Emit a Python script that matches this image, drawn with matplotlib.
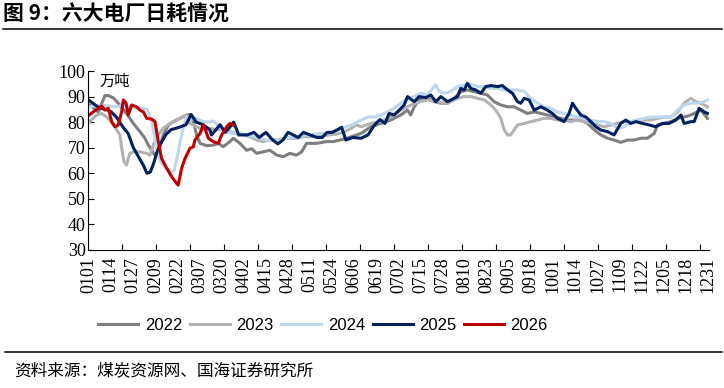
import matplotlib
matplotlib.use('Agg')  # 无显示环境
import matplotlib.pyplot as plt
from matplotlib.lines import Line2D

plt.rcParams['font.family'] = ['Liberation Serif', 'DejaVu Serif']

# ============ 数据（日序号 0=0101 ... 364=1231，单位：万吨） ============ #
tick_labels = ["0101", "0114", "0127", "0209", "0222", "0307", "0320", "0402", "0415",
               "0428", "0511", "0524", "0606", "0619", "0702", "0715", "0728", "0810",
               "0823", "0905", "0918", "1001", "1014", "1027", "1109", "1122", "1205",
               "1218", "1231"]
years = ["2022", "2023", "2024", "2025", "2026"]

d22 = [0.5, 5.4, 9.3, 11.3, 14.2, 18.1, 22, 26, 29.9, 32.8, 34.8, 36.8, 38.7, 40.7, 43.6, 46.6,
       49.5, 53.4, 57.3, 59.3, 61.3, 63.2, 65.2, 69.1, 73, 76, 78.9, 82.8, 84.8, 88.7, 92.6,
       95.6, 98.5, 102.4, 106.4, 110.3, 114.2, 118.1, 122, 125, 127.9, 133.8, 139.7, 143.6,
       147.5, 151.5, 157.3, 160, 165.7, 171.6, 177.4, 183.3, 187.3, 189.2, 191.2, 195.1, 199,
       203, 206.9, 210.8, 214.7, 218.6, 222.5, 226.5, 230.4, 234.3, 238.2, 242.2, 246.1, 250,
       253.9, 257.8, 261.8, 265.7, 269.6, 273.5, 277.5, 281.4, 285.3, 289.2, 293.1, 297.1,
       301, 304.9, 308.8, 312.7, 316.7, 320.6, 324.5, 328.4, 332.4, 334.3, 338.2, 342.2,
       346.1, 350, 353.9, 355.9, 359.8, 363.7]
v22 = [86.7, 84, 90.4, 90.4, 89.5, 86.7, 83.4, 79.5, 76.3, 73.7, 71, 69, 67, 68.4, 75, 78.9,
       80.2, 81.5, 82.8, 83, 80.2, 75, 71.7, 70.8, 71, 71.7, 70.4, 72.4, 73.7, 71.7, 69,
       69.6, 67.8, 68.4, 69, 67.1, 66.5, 67.8, 67.1, 68.4, 71.7, 71.7, 72.4, 72.4,
       73, 73.7, 75, 75.6, 78.2, 79.5, 80.8, 82.8, 84.7, 82.8, 86, 89.3, 89.3,
       88, 87.4, 87.4, 89.3, 91.9, 92.6, 91.9, 91.3, 90.6, 88, 86.7, 86, 86,
       84.7, 83.4, 84, 83.4, 82.8, 82, 81.5, 80.8, 80.8, 80.8, 79.5, 77,
       75, 73.7, 73, 72.1, 73, 73, 73.7, 73.7, 75.6, 78.9, 79.5, 80.2,
       81.5, 82, 82.8, 83.4, 84.7, 81.5]

d23 = [0, 4.4, 7.3, 10.3, 13.2, 16.2, 18.1, 19.1, 20.5, 22, 23, 24, 26, 29.9, 33.8, 35.8, 37.7,
       39.7, 43.6, 47.5, 51.5, 55.4, 57.3, 59.3, 63.2, 67.1, 71, 75, 78.9, 82.8, 86.8, 90.7,
       94.6, 98.5, 102.4, 106.4, 110.3, 114.2, 118.1, 122, 126, 129.9, 133.8, 137.7, 141.7,
       145.6, 149.5, 153.4, 157.3, 160, 165.7, 171.6, 177.4, 183.3, 189.2, 195.1, 199, 204.9,
       210.8, 216.7, 220.6, 224.5, 228.4, 232.4, 236.3, 239.2, 242.2, 244.1, 246.1, 248, 250,
       252, 255.9, 259.8, 263.7, 267.6, 271.6, 275.5, 279.4, 283.3, 287.3, 291.2, 295.1, 299,
       303, 306.9, 310.8, 314.7, 318.6, 322.5, 326.5, 330.4, 334.3, 338.2, 342.2, 346.1, 350,
       353.9, 356.9, 359.8, 363.7]
v23 = [80, 82.8, 83.4, 82, 80, 77, 75, 70, 64.5, 63.2, 65.8, 67.8, 68.4, 68.4, 67.8, 67.1, 71,
       74.3, 77.6, 79.5, 80.8, 82, 82.8, 79.5, 78.2, 77, 77.6, 77, 77.3, 76.3, 75.6, 75,
       74.3, 73, 72.4, 73, 73, 73.7, 73.7, 73.7, 74.3, 74.3, 74.3, 74.7, 75,
       75.3, 76, 77.3, 78.9, 78.2, 79.5, 80.2, 82, 84.7, 86.7, 88, 88.7, 88,
       87.4, 89.3, 90, 90, 89.3, 88.7, 86.7, 84.7, 81.5, 77, 75, 75, 77,
       78.9, 79.5, 80.2, 80.8, 81.5, 81.5, 80.8, 80.8, 80.2, 80.8, 80.2, 79.5, 78.9,
       78.2, 78.9, 79.5, 80.2, 80.2, 80.8, 80.8, 80.8, 81.5, 82, 82, 84, 87.4,
       89.3, 88, 87.4, 86]

d24 = [0, 5, 10, 15, 20, 25, 30, 34, 37, 39, 42, 45, 48, 50, 52, 53.4, 55.4, 57.3, 59, 63, 67,
       71, 73, 77, 81, 85, 89, 93, 96.6, 100.5, 104, 108, 112, 116, 120, 123, 127, 131, 135,
       139, 143, 147, 151, 155, 160, 164, 168, 171.6, 175.5, 179.4, 183.3, 187.3, 191.2,
       195.1, 199, 202, 203.9, 205.9, 208.8, 212.7, 216.7, 220.6, 224.5, 228.4, 232.4, 236.3,
       240.2, 244.1, 248, 252, 255.9, 259.8, 263.7, 267.6, 271.6, 275.5, 279.4, 283.3, 287.3,
       291.2, 295.1, 299, 303, 306.9, 310.8, 314.7, 318.6, 322.5, 326.5, 330.4, 334.3, 338.2,
       342.2, 346.1, 350, 353.9, 357.8, 361.8, 364]
v24 = [86, 86.5, 86.5, 86, 86.5, 86, 85.5, 85, 80, 72, 64.5, 62, 60.6, 61, 67, 72, 78, 82, 81,
       81.5, 80.2, 80, 80.5, 78, 76, 75.6, 75.5, 75, 74.3, 73.7, 73, 73, 73, 73.7, 74.3, 74.3,
       75, 75, 75.6, 75.6, 76.3, 77, 78.2, 79, 80.8, 82, 82, 82.8, 84, 85.4, 87.4, 89.3, 90,
       91.3, 90.6, 93.2, 94.5, 92, 91.3, 92, 93.9, 94.5, 94.8, 93.9, 93.9, 93.2,
       93.2, 92.6, 92.6, 92.6, 92, 89.3, 87.4, 86, 85.4, 84, 83.4, 82.8, 82,
       81.5, 80.8, 80.2, 80.2, 79.5, 77.6, 78.2, 80.2, 80.8, 81.5, 82, 82, 82,
       82, 84.7, 86.7, 87.4, 87.4, 88, 88.7]

d25 = [0, 3, 6, 10, 13, 16, 20, 23, 26, 29, 32, 34, 36, 38, 40, 42, 45, 48, 53, 57, 60, 63, 67,
       71, 72, 77, 80, 84, 85, 88, 93, 97, 100, 104, 108, 111, 114, 117, 120, 123, 126, 130,
       134, 137, 140, 143, 146, 148.5, 151, 155, 160, 164, 168, 171, 174, 176.5, 179.4, 182.4,
       185.3, 187.3, 189.2, 191.2, 194.1, 198, 201, 203.9, 206.9, 210.8, 213.7, 216.7, 218.6,
       220.6, 222.5, 224.5, 227.4, 230.4, 233.3, 236.3, 240.2, 243.1, 246.1, 249, 252, 253.9,
       255.9, 258.8, 261.8, 265.7, 269.6, 272.5, 275.5, 279.4, 282.3, 284.3, 286.3, 289.2,
       292.2, 295.1, 298, 301, 304.9, 308.8, 312.7, 315.7, 318.6, 321.6, 325.5, 329.4, 333.3,
       337.3, 341.2, 345.1, 348.1, 350, 354, 355.9, 358.8, 361.8, 363.7]
v25 = [88.5, 87, 85.5, 85, 84, 82, 78, 75.5, 70, 66.5, 63, 60, 60.5, 64, 68.5, 71.5, 75, 77,
       78, 79, 83, 80, 79, 77, 75, 79, 76, 79, 80, 75, 75, 76, 74, 76, 73, 71.5, 73, 76, 75,
       74, 76, 75, 74, 74, 76, 76, 77, 78, 73, 74, 73.7, 75, 79, 81, 79.5, 83.4, 82.8, 84.7,
       86.7, 90, 89, 88, 90, 89.6, 90.6, 88, 90, 88, 89, 90, 93.2,
       92.6, 95.2, 93.2, 92.6, 91.3, 93.9, 94.3, 93.9, 94.3, 92.6, 91.3, 88, 87.4,
       89.3, 88.7, 84.7, 86, 84.7, 83.4, 81.5, 80.2, 83.4, 87.4, 85.4, 82.8,
       82, 80.2, 78.2, 76.9, 76.3, 75, 79.5, 80.8, 79.5, 80.2, 79.5, 78.9, 78.2,
       79.5, 79.5, 80.8, 82.8, 79.5, 80.2, 80.2, 85.4, 84, 83.4]

d26 = [0, 2.4, 5.4, 7.3, 9.3, 11.3, 13.2, 15.2, 17.1, 19.1, 20.1, 21.7, 23, 25, 27.9, 29.9, 31.9,
       33.8, 36.8, 38.7, 40.7, 42.6, 45.6, 48.5, 51.5, 52.4, 54.4, 56.4, 59.3, 61.3, 62.2, 65.2,
       67.1, 68.1, 70.1, 73, 76, 77.9, 80.9, 82.8, 84.8]
v26 = [82.8, 84, 85.4, 86.4, 84.7, 85.4, 80.2, 78.2, 78.9, 84, 88.7, 87.4, 82.8, 86.7, 86,
       84.7, 84, 81.5, 81.2, 80.2, 72.4, 65.8, 62, 58.7, 56, 55.4, 62, 65.8, 69.8, 70.4, 73,
       75.6, 78.9, 77.6, 73.7, 72.4, 71.7, 75, 78.2, 79.5, 78.9]

colors = ["#7f7f7f", "#b2b2b2", "#bdd7ee", "#002060", "#c00000"]
series = [(d22, v22), (d23, v23), (d24, v24), (d25, v25), (d26, v26)]

# ============ 画图 ============ #
W, H = 724, 388
fig = plt.figure(figsize=(W / 100, H / 100), dpi=100)
ax = fig.add_axes([88.3 / W, (H - 250) / H, 620.5 / W, 179 / H])

for (dd, vv), c, yr in zip(series, colors, years):
    ax.plot(dd, vv, color=c, lw=2.2, label=yr, solid_joinstyle="round")

ax.set_xlim(-0.5, 364.5)
ax.set_ylim(30, 100)
ax.set_yticks(range(30, 101, 10))
ax.set_xticks([i * 13 for i in range(len(tick_labels))])
ax.set_xticklabels(tick_labels, rotation=90, fontsize=13)
ax.set_xticks([19.5 + 20 * k for k in range(18)], minor=True)
ax.tick_params(axis="x", which="major", length=0, pad=5)
ax.tick_params(axis="x", which="minor", direction="in", length=4.5, width=0.8)
ax.tick_params(axis="y", direction="in", length=4, width=0.8, pad=2, labelsize=13)
for s in ["top", "right"]:
    ax.spines[s].set_visible(False)
for s in ["left", "bottom"]:
    ax.spines[s].set_linewidth(0.8)

ax.text((115 - 88.3) / 620.5, (250 - 81) / 179, "万吨", transform=ax.transAxes,
        ha="center", va="center", fontsize=11, family=["Noto Sans CJK SC", "DejaVu Sans"])

fig.legend(loc="center", bbox_to_anchor=(323 / W, 1 - 325 / H), ncol=5, frameon=False,
           prop={"family": "Liberation Sans", "size": 12}, handlelength=2.4,
           handletextpad=0.4, columnspacing=0.45)

# 标题、分隔线、来源
fig.text(3 / W, 1 - 14 / H, "图 9：六大电厂日耗情况", ha="left", va="center", fontsize=15,
         weight="bold", family=["Noto Sans CJK SC", "DejaVu Sans"])
fig.add_artist(Line2D([3 / W, 722 / W], [1 - 29 / H] * 2, color="black", lw=1.1))
fig.add_artist(Line2D([5 / W, 722 / W], [1 - 352 / H] * 2, color="black", lw=1.1))
fig.text(14 / W, 1 - 371 / H, "资料来源：煤炭资源网、国海证券研究所", ha="left", va="center",
         fontsize=12, family=["Noto Sans CJK SC", "DejaVu Sans"])

fig.savefig("out.png", dpi=100)
plt.close(fig)
